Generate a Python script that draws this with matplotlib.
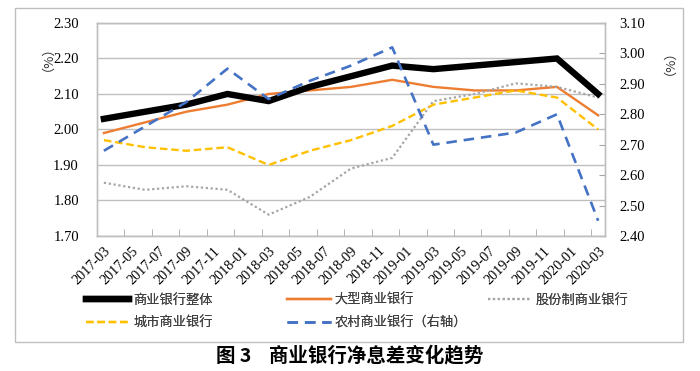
import matplotlib
matplotlib.use('Agg')
import matplotlib.pyplot as plt
from matplotlib.patches import Rectangle

plt.rcParams['font.family'] = ['Liberation Serif', 'Noto Sans CJK SC']

# quarterly data points
quarters = ['2017-03', '2017-06', '2017-09', '2017-12',
            '2018-03', '2018-06', '2018-09', '2018-12',
            '2019-03', '2019-06', '2019-09', '2019-12', '2020-03']
overall = [2.03, 2.05, 2.07, 2.10, 2.08, 2.12, 2.15, 2.18, 2.17, 2.18, 2.19, 2.20, 2.10]
large = [1.99, 2.02, 2.05, 2.07, 2.10, 2.11, 2.12, 2.14, 2.12, 2.11, 2.11, 2.12, 2.04]
joint = [1.85, 1.83, 1.84, 1.83, 1.76, 1.81, 1.89, 1.92, 2.08, 2.10, 2.13, 2.12, 2.09]
city = [1.97, 1.95, 1.94, 1.95, 1.90, 1.94, 1.97, 2.01, 2.07, 2.09, 2.11, 2.09, 2.00]
rural = [2.68, 2.76, 2.84, 2.95, 2.85, 2.91, 2.96, 3.02, 2.70, 2.72, 2.74, 2.80, 2.45]

names = ['商业银行整体', '大型商业银行', '股份制商业银行', '城市商业银行', '农村商业银行（右轴）']

# axis tick labels (every 2 months)
month_labels = ['2017-03', '2017-05', '2017-07', '2017-09', '2017-11',
                '2018-01', '2018-03', '2018-05', '2018-07', '2018-09', '2018-11',
                '2019-01', '2019-03', '2019-05', '2019-07', '2019-09', '2019-11',
                '2020-01', '2020-03']
left_ticks = [1.70, 1.80, 1.90, 2.00, 2.10, 2.20, 2.30]
right_ticks = [2.40, 2.50, 2.60, 2.70, 2.80, 2.90, 3.00, 3.10]


def month_index(s):
    y, m = s.split('-')
    return (int(y) - 2017) * 12 + int(m) - 3


xs = [month_index(q) for q in quarters]
label_pos = [month_index(s) for s in month_labels]

fig = plt.figure(figsize=(7, 3.71), dpi=100)
fig.patches.append(Rectangle((0.0214, 0.078), 0.954, 0.9, transform=fig.transFigure,
                             fill=False, edgecolor='#BFBFBF', linewidth=1))

ax = fig.add_axes([0.1386, 0.364, 0.7257, 0.574])
ax2 = ax.twinx()

c_black = '#000000'
c_orange = '#ED7D31'
c_gray = '#A5A5A5'
c_yellow = '#FFC000'
c_blue = '#4472C4'

l1, = ax.plot(xs, overall, color=c_black, linewidth=4.6, solid_joinstyle='miter',
              label=names[0], zorder=4)
l2, = ax.plot(xs, large, color=c_orange, linewidth=1.7, label=names[1], zorder=3)
l3, = ax.plot(xs, joint, color=c_gray, linewidth=1.6, linestyle=(0, (1, 1.2)),
              label=names[2], zorder=3)
l4, = ax.plot(xs, city, color=c_yellow, linewidth=1.7, linestyle=(0, (3.2, 1.6)),
              label=names[3], zorder=3)
l5, = ax2.plot(xs, rural, color=c_blue, linewidth=1.9, linestyle=(0, (4, 2.6)),
               label=names[4], zorder=3)

ax.set_xlim(-0.5, 36.5)
ax.set_ylim(1.70, 2.30)
ax2.set_ylim(2.40, 3.10)

ax.set_yticks(left_ticks)
ax.set_yticklabels(['%.2f' % v for v in left_ticks], fontsize=10.5)
ax2.set_yticks(right_ticks)
ax2.set_yticklabels(['%.2f' % v for v in right_ticks], fontsize=10.5)
ax.tick_params(axis='y', length=0, pad=13)
ax2.tick_params(axis='y', direction='in', length=4, color='#A6A6A6', pad=10)

ax.set_xticks(label_pos)
ax.set_xticklabels(month_labels, rotation=45, ha='right', rotation_mode='anchor',
                   fontsize=10.3)
ax.set_xticks([p - 0.5 for p in label_pos[1:]], minor=True)
ax.tick_params(axis='x', which='major', length=0, pad=6)
ax.tick_params(axis='x', which='minor', direction='in', length=5, color='#A6A6A6')

ax.grid(True, axis='y', color='#BFBFBF', linewidth=1)
ax.set_axisbelow(True)
for a in (ax, ax2):
    for s in a.spines.values():
        s.set_color('#BFBFBF')
        s.set_linewidth(1)

fig.text(0.058, 0.86, '（%）', rotation=90, fontsize=9.5, ha='center', va='center',
         family='Noto Sans CJK SC', color='#333333')
fig.text(0.947, 0.85, '（%）', rotation=90, fontsize=9.5, ha='center', va='center',
         family='Noto Sans CJK SC', color='#333333')

# legend: three separate columns
leg_kw = dict(frameon=False, handlelength=3.3, handletextpad=0.3, labelspacing=0.7,
              prop={'family': 'Noto Sans CJK SC', 'size': 9.5}, borderaxespad=0,
              loc='upper left', labelcolor='#404040')
cols = [([l1, l4], 0.115), ([l2, l5], 0.403), ([l3], 0.689)]
for handles, xpos in cols:
    lg = fig.legend(handles=handles, labels=[h.get_label() for h in handles],
                    bbox_to_anchor=(xpos, 0.222), **leg_kw)
    fig.add_artist(lg)

fig.text(0.5, 0.043, '图 3    商业银行净息差变化趋势', ha='center', va='center',
         fontsize=14, fontweight='bold', family=['Noto Sans CJK SC'])

fig.savefig('out.png', dpi=100)
